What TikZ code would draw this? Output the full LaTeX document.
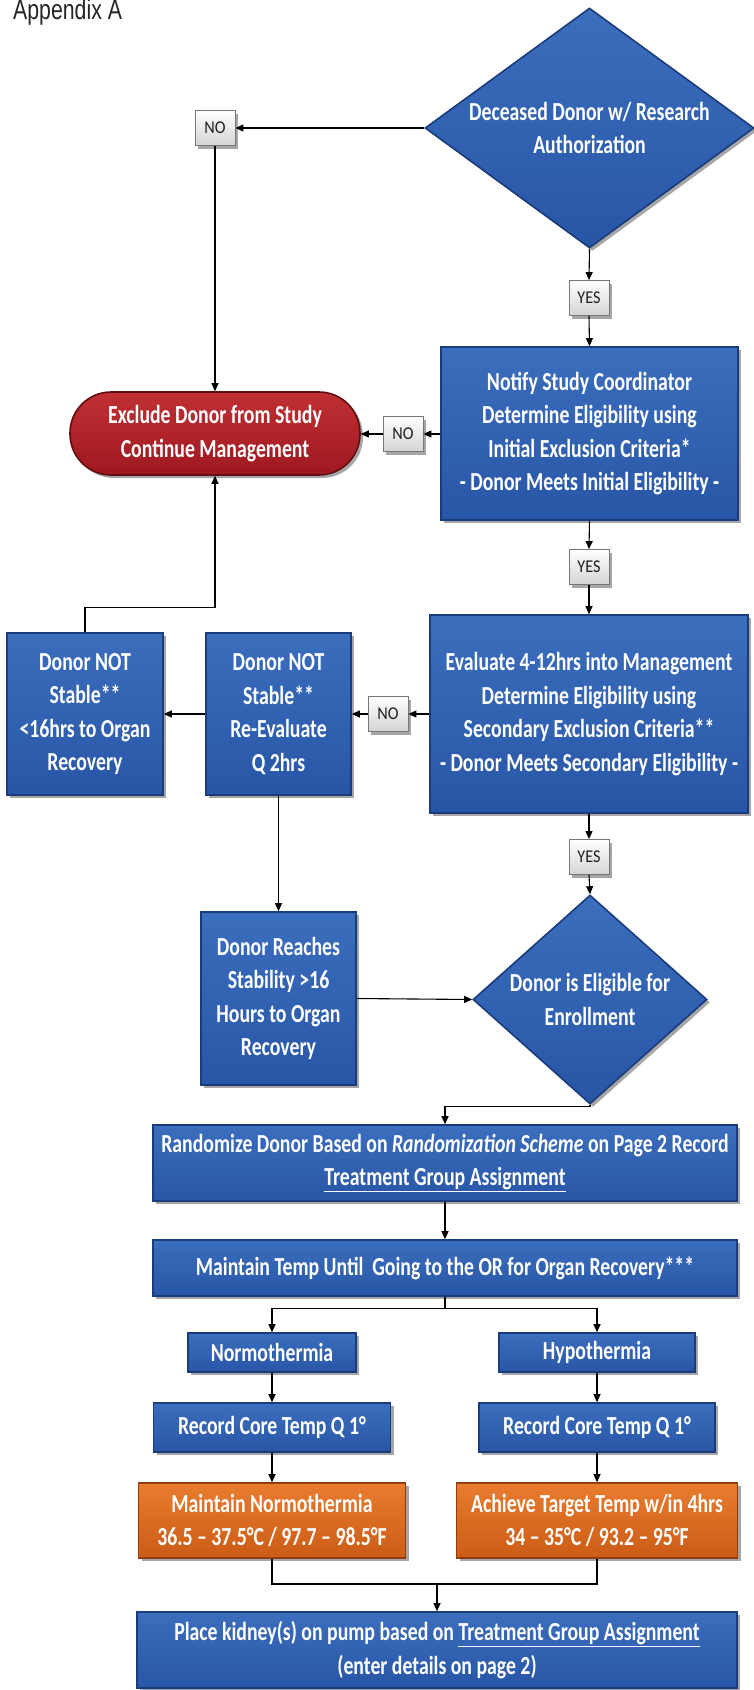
\documentclass[tikz,border=0pt]{standalone}
\usepackage{fontspec}
\setmainfont{Carlito}
\newfontfamily\boxfont[FakeStretch=0.76]{Carlito}
\newfontfamily\labfont[FakeStretch=0.9]{Carlito}
\newfontfamily\pagefont[FakeStretch=0.76]{Liberation Sans}
\usetikzlibrary{shapes.geometric,arrows.meta,shadows,calc}

\definecolor{blueT}{RGB}{60,110,190}
\definecolor{blueB}{RGB}{40,86,166}
\definecolor{blueE}{RGB}{26,60,122}
\definecolor{redT}{RGB}{192,48,52}
\definecolor{redB}{RGB}{158,24,32}
\definecolor{redE}{RGB}{96,14,18}
\definecolor{orT}{RGB}{232,124,46}
\definecolor{orB}{RGB}{204,92,22}
\definecolor{orE}{RGB}{146,60,14}
\definecolor{labB}{RGB}{212,212,212}
\definecolor{labE}{RGB}{118,118,118}
\definecolor{labT}{RGB}{30,30,30}

\tikzset{
  boxtext/.style={text=white, align=center, inner sep=0pt,
    font=\boxfont\bfseries\fontsize{26}{33.5}\selectfont},
  dropsh/.style={drop shadow={shadow xshift=3pt, shadow yshift=-3pt,
    opacity=0.35, fill=black}},
  bluebox/.style={boxtext, dropsh, rectangle, draw=blueE, line width=1.6pt,
    top color=blueT, bottom color=blueB},
  bluediam/.style={boxtext, dropsh, diamond, draw=blueE, line width=1.6pt,
    top color=blueT, bottom color=blueB},
  orbox/.style={boxtext, dropsh, rectangle, draw=orE, line width=1.6pt,
    top color=orT, bottom color=orB},
  redbox/.style={boxtext, dropsh, rectangle, rounded corners=41pt, draw=redE,
    line width=1.6pt, top color=redT, bottom color=redB},
  lab/.style={rectangle, draw=labE, line width=0.8pt, top color=white,
    bottom color=labB, text=labT, font=\labfont\fontsize{18}{20}\selectfont,
    minimum width=40pt, minimum height=35pt, inner sep=0pt, dropsh},
  arr/.style={-{Triangle[length=8pt,width=7pt]}, line width=1.1pt, black},
  ln/.style={line width=1.1pt, black},
}

\begin{document}
\begin{tikzpicture}[x=1pt,y=-1pt]
\useasboundingbox (0,0) rectangle (754,1690);
\fill[white] (0,0) rectangle (754,1690);

% page heading (its top runs past the page edge)
\node[anchor=base west, inner sep=0pt, text=black!85,
  font=\pagefont\fontsize{28}{30}\selectfont] (appx) at (13,19) {Appendix A};

% decision and process nodes
\node[bluediam, minimum width=329pt, minimum height=240pt, aspect=1.37]
  (d1) at (589.5,128) {Deceased Donor w/ Research\\Authorization};
\node[lab] (no1) at (215,128) {NO};
\node[lab] (yes1) at (589,298) {YES};

\node[bluebox, minimum width=297pt, minimum height=173pt]
  (notify) at (589.5,433.5) {Notify Study Coordinator\\Determine Eligibility using\\Initial Exclusion Criteria*\\- Donor Meets Initial Eligibility -};
\node[redbox, minimum width=290pt, minimum height=83pt]
  (excl) at (215,433.5) {Exclude Donor from Study\\Continue Management};
\node[lab] (no2) at (403,434) {NO};
\node[lab] (yes2) at (589,567) {YES};

\node[bluebox, minimum width=318pt, minimum height=198pt]
  (eval) at (589,714) {Evaluate 4-12hrs into Management\\Determine Eligibility using\\Secondary Exclusion Criteria**\\- Donor Meets Secondary Eligibility -};
\node[lab] (no3) at (388,714) {NO};
\node[bluebox, minimum width=145pt, minimum height=162pt]
  (dn2) at (278.5,714) {Donor NOT\\Stable**\\Re-Evaluate\\Q 2hrs};
\node[bluebox, minimum width=156pt, minimum height=162pt]
  (dn1) at (85,714) {Donor NOT\\Stable**\\<16hrs to Organ\\Recovery};
\node[lab] (yes3) at (589,857) {YES};

\node[bluebox, minimum width=155pt, minimum height=173pt]
  (reach) at (278.5,998.5) {Donor Reaches\\Stability >16\\Hours to Organ\\Recovery};
\node[bluediam, minimum width=234pt, minimum height=209pt, aspect=1.12]
  (d2) at (590,999.5) {Donor is Eligible for\\Enrollment};

\node[bluebox, minimum width=584pt, minimum height=76pt]
  (rand) at (445,1163) {Randomize Donor Based on \textit{Randomization Scheme} on Page 2 Record\\\underline{Treatment Group Assignment}};
\node[bluebox, minimum width=584pt, minimum height=56pt]
  (maint) at (445,1268) {Maintain Temp Until~ Going to the OR for Organ Recovery***};

\node[bluebox, minimum width=168pt, minimum height=39pt]
  (normo) at (272,1352.5) {Normothermia};
\node[bluebox, minimum width=196pt, minimum height=39pt]
  (hypo) at (597,1352.5) {Hypothermia};
\node[bluebox, minimum width=237pt, minimum height=49pt]
  (recl) at (272,1427.5) {Record Core Temp Q 1°};
\node[bluebox, minimum width=236pt, minimum height=49pt]
  (recr) at (597,1427.5) {Record Core Temp Q 1°};
\node[orbox, minimum width=267pt, minimum height=75pt]
  (orl) at (272,1520.5) {Maintain Normothermia\\36.5 – 37.5°C / 97.7 – 98.5°F};
\node[orbox, minimum width=281pt, minimum height=75pt]
  (orr) at (597,1520.5) {Achieve Target Temp w/in 4hrs\\34 – 35°C / 93.2 – 95°F};
\node[bluebox, minimum width=600pt, minimum height=76pt]
  (final) at (437,1650) {Place kidney(s) on pump based on \underline{Treatment Group Assignment}\\(enter details on page 2)};

% connectors
\draw[arr] (d1.west) -- (no1.east);
\draw[arr] (no1.south) -- (excl.north);
\draw[arr] (d1.south) -- (yes1.north);
\draw[arr] (yes1.south) -- (notify.north);

\draw[arr] (notify.west |- no2.east) -- (no2.east);
\draw[arr] (no2.west) -- (excl.east |- no2.west);
\draw[arr] (notify.south) -- (yes2.north);
\draw[arr] (yes2.south) -- (eval.north);

\draw[arr] (eval.west) -- (no3.east);
\draw[arr] (no3.west) -- (dn2.east);
\draw[arr] (dn2.west) -- (dn1.east);
\draw[arr] (dn1.north) -- ++(0,-25) -| (excl.south);
\draw[arr] (dn2.south) -- (reach.north);
\draw[arr] (reach.east) -- (d2.west);
\draw[arr] (eval.south) -- (yes3.north);
\draw[arr] (yes3.south) -- (d2.north);

\draw[arr] (d2.south) -- ++(0,2) -| (rand.north);
\draw[arr] (rand.south) -- (maint.north);
\draw[ln] (maint.south) -- ++(0,12) coordinate (split);
\draw[arr] (split) -| (normo.north);
\draw[arr] (split) -| (hypo.north);
\draw[arr] (normo.south) -- (recl.north);
\draw[arr] (hypo.south) -- (recr.north);
\draw[arr] (recl.south) -- (orl.north);
\draw[arr] (recr.south) -- (orr.north);

\coordinate (merge) at (437,1584);
\draw[ln] (orl.south) |- (merge) -| (orr.south);
\draw[arr] (merge) -- (final.north);
\end{tikzpicture}
\end{document}
